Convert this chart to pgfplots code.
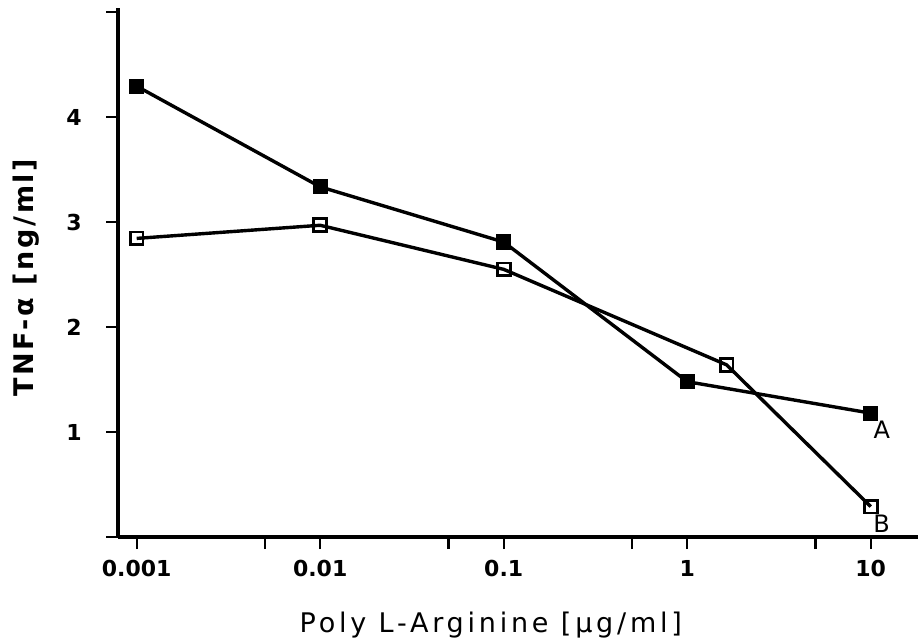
\documentclass[border=0pt]{standalone}
\usepackage{fontspec}
\setmainfont{DejaVu Sans}
\newfontfamily\xlabfont[LetterSpace=14]{DejaVu Sans}
\newfontfamily\ylabfont[LetterSpace=10,BoldFont={DejaVu Sans Bold}]{DejaVu Sans}
\usepackage{pgfplots}
\pgfplotsset{compat=1.18}

% TNF-alpha vs poly L-arginine, curves A (filled) and B (open)
\pgfplotstableread{
x      y
0.001  4.295
0.01   3.336
0.1    2.81
1      1.48
10     1.18
}\seriesA
\pgfplotstableread{
x      y
0.001  2.845
0.01   2.97
0.1    2.55
1.64   1.64
10     0.29
}\seriesB

\begin{document}
\begin{tikzpicture}
\begin{axis}[
    scale only axis,
    width=400pt, height=264.5pt,
    xmode=log,
    xmin=7.91e-4, xmax=18.1,
    ymin=0, ymax=5.04,
    axis x line=bottom, axis y line=left,
    axis line style={-, line width=1.8pt},
    xtick={0.001,0.01,0.1,1,10},
    xticklabels={0.001,0.01,0.1,1,10},
    minor xtick={0.005,0.05,0.5,5},
    ytick={0,1,2,3,4,5},
    yticklabels={,1,2,3,4,},
    tick align=outside,
    major tick length=6pt, minor tick length=6pt,
    tick style={line width=1.1pt, black},
    tick label style={font=\bfseries\fontsize{11}{11}\selectfont},
    xticklabel style={yshift=-2pt},
    yticklabel style={anchor=center, xshift=-16pt},
    xlabel={\xlabfont\fontsize{13.5}{13.5}\selectfont Poly L-Arginine [µg/ml]},
    ylabel={\ylabfont\bfseries\fontsize{13.5}{13.5}\selectfont TNF-α [ng/ml]},
    x label style={at={(axis description cs:0.466,0)}, anchor=base, yshift=-47.5pt},
    y label style={at={(axis description cs:-0.115,0.49)}, anchor=center},
    clip=false,
]
\addplot[black, line width=1.7pt, mark=square*, mark size=3.3pt,
    mark options={solid, fill=black, line width=1pt}] table[x=x, y=y] {\seriesA};
\addplot[black, line width=1.7pt, mark=square, mark size=3.2pt,
    mark options={solid, fill=white, line width=1.4pt}] table[x=x, y=y] {\seriesB};
\node[font=\fontsize{12}{12}\selectfont, xshift=5.5pt, yshift=-8.5pt] at (axis cs:10,1.18) {A};
\node[font=\fontsize{12}{12}\selectfont, xshift=5.5pt, yshift=-8.5pt] at (axis cs:10,0.29) {B};
\coordinate (bl) at (rel axis cs:0,0);
\coordinate (tr) at (rel axis cs:1,1);
\end{axis}
\pgfresetboundingbox
\path[use as bounding box] ([xshift=-59pt, yshift=-52.5pt]bl) rectangle ([yshift=4pt]tr);
\end{tikzpicture}
\end{document}
